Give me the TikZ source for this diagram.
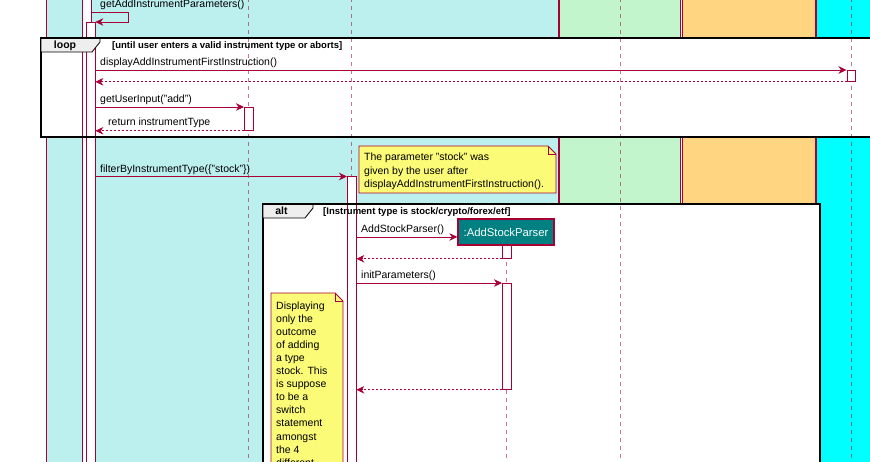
\documentclass[tikz,border=0pt]{standalone}
\usepackage{fontspec}
\setmainfont{Liberation Sans}
\usetikzlibrary{arrows.meta, positioning, calc}
\definecolor{umlred}{HTML}{A80036}
\definecolor{boxcyan}{HTML}{BCF0EF}
\definecolor{boxgreen}{HTML}{C2F5CC}
\definecolor{boxorange}{HTML}{FFD581}
\definecolor{boxaqua}{HTML}{00FFFF}
\definecolor{noteyellow}{HTML}{FBFB77}
\definecolor{partteal}{HTML}{008080}
\definecolor{tabgray}{HTML}{EEEEEE}
\newcommand{\msgfont}{\fontsize{10.5}{12.6}\selectfont}
\newcommand{\condfont}{\fontsize{9.5}{11}\selectfont\bfseries}
\newcommand{\tagfont}{\fontsize{10.5}{12}\selectfont\bfseries}

\tikzset{
  msg/.style={umlred, line width=0.8pt, -{Stealth[length=8pt, width=7.5pt, inset=2.5pt]}},
  ret/.style={msg, dash pattern=on 2pt off 2pt},
  lifeline/.style={umlred, draw opacity=0.55, line width=0.9pt, dash pattern=on 4pt off 4pt},
  actbox/.style={draw=umlred, fill=white, line width=0.8pt, inner sep=0pt, minimum width=8.5pt, anchor=north west},
  msglabel/.style={font=\msgfont, anchor=base west, inner sep=0pt},
  notepaper/.style={draw=umlred, fill=noteyellow, line width=0.8pt},
  frameline/.style={draw=black, line width=1.6pt},
  tabshape/.style={draw=black, line width=0.8pt, fill=tabgray},
}

\begin{document}
\begin{tikzpicture}[x=1pt, y=-1pt]

\useasboundingbox (0,0) rectangle (870,462);
\clip (0,0) rectangle (870,462);

% Participant boxes
\fill[boxcyan] (46,-10) rectangle (558,480);
\fill[boxgreen] (559.5,-10) rectangle (680.7,480);
\fill[boxorange] (682.3,-10) rectangle (815,480);
\fill[boxaqua] (816.7,-10) rectangle (890,480);
\foreach \x in {46,558,559.5,680.7,682.3,815,816.7} {
  \draw[umlred, line width=0.6pt] (\x,-10) -- (\x,480);
}

% Frame backgrounds
\fill[white] (41,38) rectangle (890,137);
\fill[white] (263,204) rectangle (820,480);

% Lifelines
\coordinate (ui) at (248,-10);
\coordinate (parser) at (351,-10);
\coordinate (logic) at (620,-10);
\coordinate (view) at (851,-10);
\foreach \p in {ui,parser,logic,view} {
  \draw[lifeline] (\p) -- ++(0,490);
}

% Activations
\node[actbox, minimum height=490pt] (actOut) at (82,-10) {};
\node[actbox, minimum height=460pt] (actIn) at (86,22) {};
\node[actbox, minimum height=11pt] (actView) at (846.5,70) {};
\node[actbox, minimum height=23pt] (actUi) at (244,107) {};
\node[actbox, minimum height=310pt] (actPar) at (347,176.5) {};

% Frames
\draw[frameline] (41,38) rectangle (890,137);
\draw[tabshape] (41,38) -- (100,38) -- (100,42) -- (92,52) -- (41,52) -- cycle;
\draw[frameline] (41,38) -- (890,38);
\node[font=\tagfont, anchor=base, inner sep=0pt] (loopTag) at (65,49) {loop};
\node[font=\condfont, anchor=base west, inner sep=0pt] (loopCond) at (112,48.5)
  {[until user enters a valid instrument type or aborts]};

\draw[frameline] (263,480) -- (263,204) -- (820,204) -- (820,480);
\draw[tabshape] (263,204) -- (313,204) -- (313,208) -- (305,218) -- (263,218) -- cycle;
\draw[frameline] (263,204) -- (820,204);
\node[font=\tagfont, anchor=base, inner sep=0pt] (altTag) at (281.5,215) {alt};
\node[font=\condfont, anchor=base west, inner sep=0pt] (altCond) at (323,214.5)
  {[Instrument type is stock/crypto/forex/etf]};

% Self call
\node[msglabel] (lblSelf) at (100,8) {getAddInstrumentParameters()};
\coordinate (selfTurn) at (128,12);
\draw[msg] (actOut.east |- selfTurn) -- (selfTurn) -- (selfTurn |- actIn.north east) -- (actIn.north east);

% Loop messages
\node[msglabel] (lblFirst) at (100,66) {displayAddInstrumentFirstInstruction()};
\draw[msg] (actIn.east |- actView.north west) -- (actView.north west);
\draw[ret] (actView.south west) -- (actIn.east |- actView.south west);

\node[msglabel] (lblInput) at (100,103) {getUserInput("add")};
\draw[msg] (actIn.east |- actUi.north west) -- (actUi.north west);
\node[msglabel] (lblType) at (108,126) {return instrumentType};
\draw[ret] (actUi.south west) -- (actIn.east |- actUi.south west);

% Filter call
\node[msglabel] (lblFilter) at (100,173) {filterByInstrumentType(\{"stock"\})};
\draw[msg] (actIn.east |- actPar.north west) -- (actPar.north west);

% Note on the filter call
\draw[notepaper] (359,146) -- (548,146) -- (556,154) -- (556,193) -- (359,193) -- cycle;
\draw[umlred, line width=0.8pt] (548,146) -- (548,154) -- (556,154);
\foreach \ln [count=\i from 0] in {{The parameter "stock" was},{given by the user after},{displayAddInstrumentFirstInstruction().}} {
  \node[msglabel] (noteA\i) at (364,{161+13.5*\i}) {\ln};
}

% Created parser
\node[draw=umlred, line width=1.2pt, fill=partteal, text=white, inner sep=0pt,
  minimum width=96pt, minimum height=26pt, font=\fontsize{11.3}{13}\selectfont] (asp) at (506,232) {:AddStockParser};
\draw[lifeline] (asp.south) -- ++(0,240);
\node[actbox, minimum height=13pt] (actAspA) at (502,245) {};
\node[actbox, minimum height=106pt] (actAspB) at (502,283) {};

\node[msglabel] (lblCreate) at (361,233) {AddStockParser()};
\draw[msg] (actPar.east |- 0,237) -- ([yshift=-5pt]asp.west);
\draw[ret] (actAspA.south west) -- (actPar.east |- actAspA.south west);

\node[msglabel] (lblInit) at (361,279) {initParameters()};
\draw[msg] (actPar.east |- actAspB.north west) -- (actAspB.north west);
\draw[ret] (actAspB.south west) -- (actPar.east |- actAspB.south west);

% Note inside alt
\draw[notepaper] (271,293) -- (335,293) -- (343,301) -- (343,480) -- (271,480) -- cycle;
\draw[umlred, line width=0.8pt] (335,293) -- (335,301) -- (343,301);
\foreach \ln [count=\i from 0] in {Displaying,only the,outcome,of adding,a type,stock. This,is suppose,to be a,switch,statement,amongst,the 4,different} {
  \node[msglabel] (noteB\i) at (276,{309+13.1*\i}) {\ln};
}

\end{tikzpicture}
\end{document}
